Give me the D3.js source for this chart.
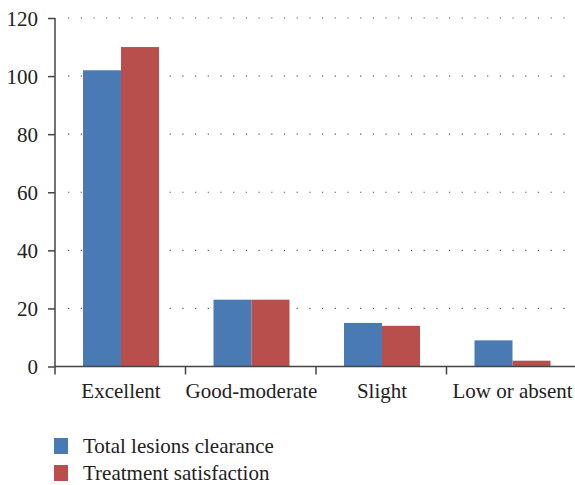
<!DOCTYPE html>
<html>
<head>
<meta charset="utf-8">
<script src="https://cdn.jsdelivr.net/npm/d3@7"></script>
<style>
  body { margin: 0; background: #fff; }
  text { font-family: "Liberation Serif", "DejaVu Serif", serif; fill: #222; }
</style>
</head>
<body>
<div id="chart"></div>
<script>
"use strict";

// chart data
const categories = ["Excellent", "Good-moderate", "Slight", "Low or absent"];
const seriesNames = ["Total lesions clearance", "Treatment satisfaction"];
const clearance = [102, 23, 15, 9];
const satisfaction = [110, 23, 14, 2];
const yTicks = [0, 20, 40, 60, 80, 100, 120];
const colors = ["#4a7ab4", "#b84f4c"];

const width = 575, height = 485;
const margin = { left: 55, top: 18, right: 0, bottom: 119 };
const fontSize = "21px";

let svg = d3.select("#chart").append("svg")
    .attr("width", width)
    .attr("height", height);

//scales
let x = d3.scaleBand()
    .domain(categories)
    .range([margin.left, margin.left + 522])
    .paddingInner(0)
    .paddingOuter(0);

let xInner = d3.scaleBand()
    .domain([0, 1])
    .range([28, 104]);

let y = d3.scaleLinear()
    .domain([0, 120])
    .range([366.5, margin.top]);

//dotted gridlines
svg.append("g")
   .selectAll("line")
   .data(yTicks.filter(d => d > 0))
   .enter()
   .append("line")
   .attr("x1", margin.left + 13)
   .attr("x2", width)
   .attr("y1", d => y(d))
   .attr("y2", d => y(d))
   .attr("stroke", "#555")
   .attr("stroke-width", 1.2)
   .attr("stroke-dasharray", "1.2 11.5");

//bars
const table = categories.map((c, i) => ({ cat: c, vals: [clearance[i], satisfaction[i]] }));
let groups = svg.selectAll("g.cat")
    .data(table)
    .enter()
    .append("g")
    .classed("cat", true)
    .attr("transform", d => `translate(${x(d.cat)},0)`);

groups.selectAll("rect")
      .data(d => d.vals)
      .enter()
      .append("rect")
      .attr("x", (_, i) => xInner(i))
      .attr("width", xInner.bandwidth())
      .attr("y", d => y(d))
      .attr("height", d => y(0) - y(d))
      .attr("fill", (_, i) => colors[i]);

//y axis
let yAxis = svg.append("g")
    .attr("transform", `translate(${margin.left},0)`)
    .call(d3.axisLeft(y).tickValues(yTicks).tickSize(7).tickPadding(10).tickSizeOuter(0));
yAxis.attr("font-family", null).attr("font-size", null);
yAxis.select(".domain").attr("stroke", "#444").attr("stroke-width", 1.5)
     .attr("d", `M0,${y(120)}V${y(0) + 8}`);
yAxis.selectAll(".tick line").attr("stroke", "#444").attr("stroke-width", 1.5);
yAxis.selectAll("text").style("font-size", fontSize).attr("fill", "#222").attr("dy", "0.35em");

//x axis
let xAxis = svg.append("g")
    .attr("transform", `translate(0,${y(0)})`);
xAxis.append("line")
     .attr("x1", margin.left).attr("x2", width)
     .attr("stroke", "#444").attr("stroke-width", 1.5);
xAxis.selectAll("line.tk")
     .data(categories.slice(1))
     .enter()
     .append("line")
     .classed("tk", true)
     .attr("x1", d => x(d)).attr("x2", d => x(d))
     .attr("y1", 0).attr("y2", 8)
     .attr("stroke", "#444").attr("stroke-width", 1.5);
xAxis.selectAll("text")
     .data(categories)
     .enter()
     .append("text")
     .attr("x", d => x(d) + (xInner(0) + xInner(1) + xInner.bandwidth()) / 2)
     .attr("y", 31)
     .attr("text-anchor", "middle")
     .style("font-size", fontSize)
     .text(d => d);

//legend
let legend = svg.append("g").attr("transform", "translate(54,438)");
let items = legend.selectAll("g")
    .data(seriesNames)
    .enter()
    .append("g")
    .attr("transform", (_, i) => `translate(0,${i * 27})`);
items.append("rect")
     .attr("width", 14).attr("height", 16)
     .attr("fill", (_, i) => colors[i]);
items.append("text")
     .attr("x", 29).attr("y", 15)
     .style("font-size", fontSize)
     .text(d => d);
</script>
</body>
</html>
